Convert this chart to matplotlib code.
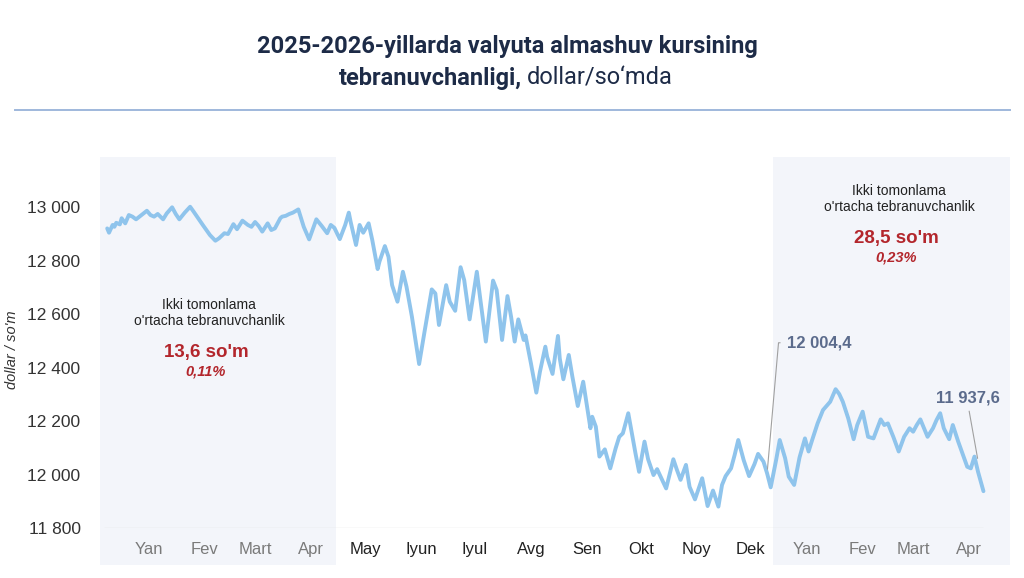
import numpy as np
import matplotlib.pyplot as plt
from matplotlib.lines import Line2D

plt.rcParams['font.family'] = ['Liberation Sans', 'DejaVu Sans']

# kurs, dollar/so'm (kunlar 2025-01-01 dan hisoblangan)
start = np.datetime64('2025-01-01')
day = [-8, -7, -5, -4, -3, -1, 0, 2, 4, 6, 8, 11, 14, 16, 18, 20, 23, 25, 28, 30,
       32, 35, 38, 40, 45, 49, 52, 54, 57, 59, 62, 64, 67, 70, 72, 74, 76, 78, 81, 83,
       85, 88, 89, 91, 93, 95, 98, 101, 104, 108, 111, 114, 116, 118, 121, 124, 126, 127, 130, 132,
       134, 137, 139, 142, 143, 146, 148, 150, 153, 156, 158, 161, 165, 168, 172, 174, 176, 180, 182, 185,
       188, 190, 193, 197, 199, 202, 206, 208, 211, 214, 216, 218, 220, 223, 224, 227, 230, 232, 235, 236,
       239, 242, 243, 245, 248, 250, 253, 256, 260, 261, 263, 265, 268, 271, 274, 276, 278, 281, 283, 285,
       287, 290, 292, 295, 297, 302, 306, 308, 310, 313, 315, 318, 322, 325, 328, 331, 333, 335, 338, 340,
       342, 345, 348, 351, 353, 356, 358, 360, 363, 365, 368, 370, 373, 375, 376, 379, 381, 383, 386, 389,
       393, 396, 398, 400, 403, 406, 408, 411, 414, 417, 421, 423, 425, 428, 431, 434, 437, 439, 441, 443,
       445, 447, 450, 452, 454, 456, 459, 461, 464, 467, 469, 471, 473, 475, 478]
rate = [12920, 12904, 12933, 12926, 12941, 12935, 12958, 12939, 12970, 12964, 12954, 12970, 12986, 12970, 12964, 12974, 12954, 12976, 12999, 12974,
        12954, 12979, 13001, 12982, 12933, 12895, 12874, 12883, 12902, 12899, 12936, 12917, 12949, 12933, 12926, 12944, 12929, 12908, 12939, 12914,
        12920, 12958, 12964, 12967, 12974, 12979, 12991, 12926, 12879, 12954, 12929, 12902, 12933, 12922, 12880, 12933, 12979, 12945, 12858, 12933,
        12904, 12939, 12877, 12768, 12796, 12854, 12814, 12708, 12646, 12758, 12702, 12590, 12413, 12534, 12692, 12677, 12559, 12708, 12646, 12612,
        12775, 12727, 12580, 12758, 12652, 12497, 12725, 12690, 12503, 12667, 12590, 12497, 12580, 12503, 12520, 12416, 12306, 12384, 12478, 12440,
        12376, 12518, 12434, 12356, 12447, 12366, 12256, 12347, 12173, 12216, 12179, 12067, 12094, 12023, 12098, 12141, 12154, 12229, 12154, 12079,
        12010, 12123, 12057, 11998, 12020, 11948, 12057, 12017, 11980, 12036, 11954, 11907, 11986, 11882, 11940, 11880, 11961, 11994, 12023, 12073,
        12129, 12054, 11994, 12039, 12077, 12048, 12004.4, 11952, 12054, 12129, 12061, 11992, 11961, 12029, 12064, 12135, 12086, 12129, 12191, 12241,
        12272, 12319, 12301, 12272, 12210, 12132, 12185, 12235, 12141, 12135, 12206, 12185, 12191, 12141, 12086, 12141, 12173, 12160, 12185, 12206,
        12173, 12141, 12173, 12204, 12229, 12173, 12132, 12185, 12123, 12067, 12029, 12023, 12067, 12010, 11937.6]

months = ['Yan', 'Fev', 'Mart', 'Apr', 'May', 'Iyun', 'Iyul', 'Avg', 'Sen', 'Okt',
          'Noy', 'Dek', 'Yan', 'Fev', 'Mart', 'Apr']
month_ticks = np.arange('2025-01', '2026-05', dtype='datetime64[M]').astype('datetime64[D]') + 15
yticks = [11800, 12000, 12200, 12400, 12600, 12800, 13000]

spans = [(np.datetime64('2024-12-20'), np.datetime64('2025-04-30')),
         (np.datetime64('2025-12-28'), np.datetime64('2026-05-09'))]
left_note = ("13,6 so'm", "0,11%")
right_note = ("28,5 so'm", "0,23%")
note_head = "Ikki tomonlama\no'rtacha tebranuvchanlik"

dates = start + np.array(day)

W, H = 1024, 578
fig = plt.figure(figsize=(W / 100, H / 100), dpi=100)
ax = fig.add_axes([100 / W, 50 / H, 910.5 / W, 371 / H])


def fp(x, y):
    return x / W, 1 - y / H


for a, b in spans:
    ax.axvspan(a, b, ymin=-0.1, ymax=1, color='#f3f5fa', lw=0, clip_on=False, zorder=0)

ax.hlines(11800, np.datetime64('2024-12-22'), np.datetime64('2026-04-24'),
          color='#e2e2e2', lw=1, zorder=1)
ax.plot(dates, rate, color='#8fc4ec', lw=2.8, solid_joinstyle='round',
        solid_capstyle='round', zorder=3)

ax.set_xlim(spans[0][0], spans[1][1])
ax.set_ylim(11800, 13187)
for s in ax.spines.values():
    s.set_visible(False)

ax.set_yticks(yticks)
ax.set_yticklabels([f"{v:,}".replace(",", " ") for v in yticks])
ax.tick_params(axis='y', length=0, pad=14, labelsize=12.5, labelcolor='#333333')
ax.set_xticks(month_ticks)
ax.set_xticklabels(months)
ax.tick_params(axis='x', length=0, pad=10, labelsize=12)
for t, lab in zip(month_ticks, ax.get_xticklabels()):
    shaded = any(a <= t <= b for a, b in spans)
    lab.set_color('#7a7a7a' if shaded else '#222222')

# annotatsiyalar
i1 = rate.index(12004.4)
ax.annotate("12 004,4", xy=(dates[i1], rate[i1]), xytext=(14.4, 94),
            textcoords='offset points', ha='left', va='center', fontsize=12,
            fontweight='bold', color='#5b6b8c',
            arrowprops=dict(arrowstyle='-', color='#a0a0a0', lw=0.8, relpos=(0, 0.5),
                            connectionstyle='angle,angleA=0,angleB=85,rad=0',
                            shrinkA=3, shrinkB=3))
ax.annotate("11 937,6", xy=(dates[-1], rate[-1]), xytext=(-11, 67),
            textcoords='offset points', ha='center', va='center', fontsize=12,
            fontweight='bold', color='#5b6b8c',
            arrowprops=dict(arrowstyle='-', color='#a0a0a0', lw=0.8, relpos=(0.5, 0),
                            shrinkA=2, shrinkB=24))

for (cx, y0), (val, pct) in [((209, 306), left_note), ((899, 192), right_note)]:
    fig.text(*fp(cx, y0 + 7), note_head, ha='center', va='center', fontsize=10,
             color='#222222', linespacing=1.15)
    fig.text(*fp(cx - 3, y0 + 46), val, ha='center', va='center', fontsize=13.5,
             fontweight='bold', color='#b3262c')
    fig.text(*fp(cx - 3, y0 + 65), pct, ha='center', va='center', fontsize=10.5,
             fontweight='bold', style='italic', color='#b3262c')

fig.text(*fp(12, 350), "dollar / so'm", rotation=90, ha='center', va='center',
         fontsize=10.5, style='italic', color='#333333')

# sarlavha
navy = '#1d2b47'
fig.text(*fp(507, 47), "2025-2026-yillarda valyuta almashuv kursining", ha='center',
         va='center', fontsize=17, fontweight='bold', family='Roboto', color=navy)
t1 = fig.text(0, 0, "tebranuvchanligi,", va='center', fontsize=17,
              fontweight='bold', family='Roboto', color=navy)
t2 = fig.text(0, 0, "dollar/so\u2018mda", va='center', fontsize=17,
              family='Roboto', color=navy)
r = fig.canvas.get_renderer()
w1 = t1.get_window_extent(r).width
w2 = t2.get_window_extent(r).width
gap = 5
x0 = 506 - (w1 + gap + w2) / 2
t1.set_position(fp(x0, 78))
t2.set_position(fp(x0 + w1 + gap, 78))

fig.add_artist(Line2D([15 / W, 1010 / W], [1 - 110 / H] * 2, color='#9fb8dc', lw=1.4))

fig.savefig('out.png', dpi=100)
